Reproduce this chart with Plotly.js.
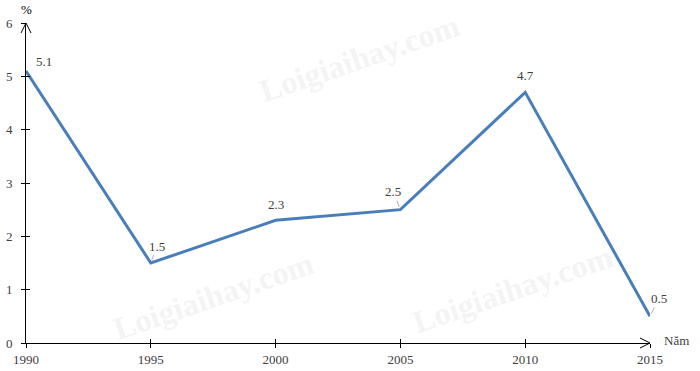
<!DOCTYPE html>
<html><head><meta charset="utf-8">
<script src="https://cdn.plot.ly/plotly-3.0.1.min.js"></script>
<style>body{margin:0}#c{width:700px;height:371px}</style>
</head><body><div id="c"></div>
<script>
const years = [1990, 1995, 2000, 2005, 2010, 2015];
const values = [5.1, 1.5, 2.3, 2.5, 4.7, 0.5];
const labels = ['5.1', '1.5', '2.3', '2.5', '4.7', '0.5'];
const yTicks = [0, 1, 2, 3, 4, 5, 6];

const serif = '"Liberation Serif", serif';
const tickFont = {family: serif, size: 13, color: '#404040'};

// label offsets in px (text center relative to point) and whether a leader line shows
const offs = [[18,-10,false],[6,-17,true],[0,-16,false],[-7,-18,true],[0,-17,false],[9,-18,true]];

const anns = years.map((yr, i) => {
  const o = offs[i];
  if (o[2]) {
    return {x: yr, y: values[i], xref: 'x', yref: 'y', text: labels[i], showarrow: true,
      ax: o[0], ay: o[1], arrowhead: 0, arrowwidth: 1, arrowcolor: '#b0b0b0', standoff: 3,
      font: {family: serif, size: 13, color: '#404040'}};
  }
  return {x: yr, y: values[i], xref: 'x', yref: 'y', text: labels[i], showarrow: false,
    xshift: o[0], yshift: -o[1], font: {family: serif, size: 13, color: '#404040'}};
});

// axis names
anns.push({x: 0, y: 1, xref: 'paper', yref: 'paper', text: '%', showarrow: false, yshift: 4,
  xanchor: 'center', yanchor: 'bottom', font: {family: serif, size: 13, color: '#000'}});
anns.push({x: 1, y: 0, xref: 'paper', yref: 'paper', text: 'Năm', showarrow: false, xshift: 12,
  xanchor: 'left', yanchor: 'middle', yshift: 3, font: {family: serif, size: 13, color: '#404040'}});
// watermarks
const wm = [[0.535, 0.89], [0.3, 0.147], [0.78, 0.17]];
wm.forEach(p => anns.push({x: p[0], y: p[1], xref: 'paper', yref: 'paper', text: 'Loigiaihay.com',
  xanchor: 'center', yanchor: 'middle',
  showarrow: false, textangle: -19, font: {family: serif, size: 32, color: 'rgba(190,190,190,0.18)', weight: 'bold'}}));

// open arrowheads at axis ends (paper coords coincide with axis ends)
const shapes = [
  {type: 'path', xref: 'paper', yref: 'paper', xsizemode: 'pixel', ysizemode: 'pixel', xanchor: 0, yanchor: 1,
   path: 'M-5,-10 L0,0 L5,-10', line: {color: '#000', width: 1}},
  {type: 'path', xref: 'paper', yref: 'paper', xsizemode: 'pixel', ysizemode: 'pixel', xanchor: 1, yanchor: 0,
   path: 'M-10,5 L0,0 L-10,-5', line: {color: '#000', width: 1}}
];

const trace = {x: years, y: values, type: 'scatter', mode: 'lines',
  line: {color: '#4A7EBB', width: 3}, hoverinfo: 'skip'};
const dummy = {x: years, y: values, type: 'scatter', mode: 'lines', xaxis: 'x2', yaxis: 'y2',
  line: {color: 'rgba(0,0,0,0)'}, hoverinfo: 'skip', showlegend: false};

const layout = {
  width: 700, height: 371,
  margin: {l: 26, r: 50, t: 23, b: 28},
  paper_bgcolor: '#fff', plot_bgcolor: '#fff',
  showlegend: false,
  xaxis: {range: [1990, 2015], tickvals: years, ticktext: years.map(String), showgrid: false, zeroline: false,
    showline: true, linecolor: '#000', linewidth: 1, ticks: 'outside', ticklen: 4, tickcolor: '#000',
    tickfont: tickFont, fixedrange: true},
  yaxis: {range: [0, 6], tickvals: yTicks, showgrid: false, zeroline: false,
    showline: true, linecolor: '#000', linewidth: 1, ticks: 'outside', ticklen: 4, tickcolor: '#000',
    tickfont: tickFont, ticklabelstandoff: 6, fixedrange: true},
  xaxis2: {overlaying: 'x', range: [1990, 2015], tickvals: years, showticklabels: false, showgrid: false,
    zeroline: false, ticks: 'inside', ticklen: 4, tickcolor: '#000', side: 'bottom', anchor: 'y2'},
  yaxis2: {overlaying: 'y', range: [0, 6], tickvals: yTicks, showticklabels: false, showgrid: false,
    zeroline: false, ticks: 'inside', ticklen: 4, tickcolor: '#000', side: 'left', anchor: 'x2'},
  shapes: shapes,
  annotations: anns
};
Plotly.newPlot('c', [trace, dummy], layout, {staticPlot: true});
</script></body></html>
